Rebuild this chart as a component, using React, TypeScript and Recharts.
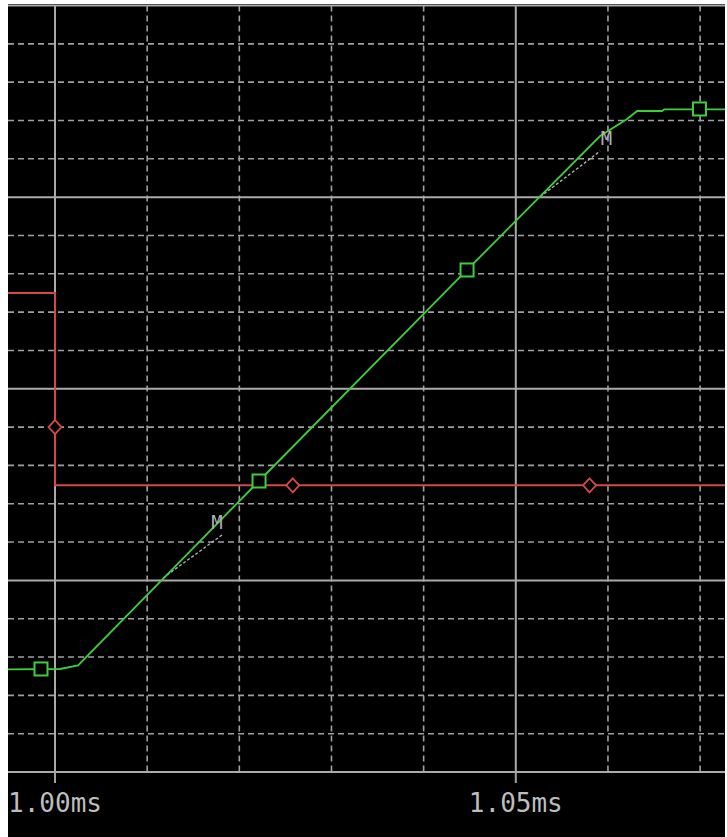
import {
  CartesianGrid,
  ComposedChart,
  Line,
  Scatter,
  XAxis,
  YAxis,
} from "recharts";

// time in ms, level in grid divisions (0 = bottom border, 20 = top border)
const T_START = 0.9949;
const T_END = 1.0727;

const greenTrace = [
  { t: 0.9949, v: 2.68 },
  { t: 1.00054, v: 2.688 },
  { t: 1.0025, v: 2.784 },
  { t: 1.02214, v: 7.593 },
  { t: 1.04471, v: 13.099 },
  { t: 1.05915, v: 16.595 },
  { t: 1.06208, v: 17.039 },
  { t: 1.06317, v: 17.247 },
  { t: 1.06588, v: 17.247 },
  { t: 1.0661, v: 17.292 },
  { t: 1.0727, v: 17.292 },
];

const redTrace = [
  { t: 0.9949, v: 12.5 },
  { t: 1.0, v: 12.5 },
  { t: 1.0, v: 7.48 },
  { t: 1.0727, v: 7.48 },
];

const greenMarkers = [
  { t: 0.99848, v: 2.688 },
  { t: 1.02214, v: 7.593 },
  { t: 1.04471, v: 13.099 },
  { t: 1.06993, v: 17.3 },
];

const redMarkers = [
  { t: 1.0, v: 9.0 },
  { t: 1.0258, v: 7.48 },
  { t: 1.058, v: 7.48 },
];

const grayTrace = [
  { t: 1.01172, v: 5.062 },
  { t: 1.01812, v: 6.184 },
  { t: 1.03, v: null },
  { t: 1.05264, v: 15.01 },
  { t: 1.05915, v: 16.2 },
];

const cursorLabels = [
  { t: 1.01758, v: 6.523, label: "M" },
  { t: 1.05985, v: 16.55, label: "M" },
];

const xTicks = [1.0, 1.05];
const xMinor = [1.01, 1.02, 1.03, 1.04, 1.06, 1.07];
const xMajor = [1.0, 1.05];
const yMinor = [1, 2, 3, 4, 6, 7, 8, 9, 11, 12, 13, 14, 16, 17, 18, 19];
const yMajor = [0, 5, 10, 15, 20];

const GREEN = "#3ccf3c";
const RED = "#d44848";
const GRID = "#a0a0a0";

const SquareMark = (props: any) => {
  const { cx, cy } = props;
  return (
    <rect
      x={cx - 6.5}
      y={cy - 6.5}
      width={13}
      height={13}
      fill="#000"
      stroke={GREEN}
      strokeWidth={2}
    />
  );
};

const DiamondMark = (props: any) => {
  const { cx, cy } = props;
  return (
    <path
      d={`M${cx},${cy - 7} L${cx + 6.5},${cy} L${cx},${cy + 7} L${cx - 6.5},${cy} Z`}
      fill="#000"
      stroke={RED}
      strokeWidth={1.8}
    />
  );
};

const LabelMark = (props: any) => {
  const { cx, cy, payload } = props;
  return (
    <text
      x={cx}
      y={cy + 7}
      textAnchor="middle"
      fontFamily="DejaVu Sans Mono"
      fontSize={19}
      fill="#b0b0b0"
    >
      {payload.label}
    </text>
  );
};

const TimeTick = (props: any) => {
  const { x, y, payload } = props;
  return (
    <text
      x={x}
      y={y + 27}
      textAnchor="middle"
      fontFamily="DejaVu Sans Mono"
      fontSize={26}
      fill="#bdbdbd"
    >
      {payload.value.toFixed(2)}ms
    </text>
  );
};

export default function App() {
  return (
    <div style={{ position: "absolute", left: 8, top: 4, background: "#000" }}>
      <ComposedChart
        width={717}
        height={833}
        margin={{ top: 1.5, right: 0, bottom: 0, left: 0 }}
      >
        <XAxis
          dataKey="t"
          type="number"
          domain={[T_START, T_END]}
          allowDataOverflow
          ticks={xTicks}
          tick={<TimeTick />}
          tickSize={11}
          tickMargin={2}
          tickLine={{ stroke: GRID, strokeWidth: 2 }}
          axisLine={false}
          height={65}
        />
        <YAxis
          dataKey="v"
          type="number"
          domain={[0, 20]}
          allowDataOverflow
          hide
          width={0}
        />
        <CartesianGrid
          horizontalValues={yMinor}
          verticalValues={xMinor}
          stroke={GRID}
          strokeWidth={1.6}
          strokeDasharray="6 4"
        />
        <CartesianGrid
          horizontalValues={yMajor}
          verticalValues={xMajor}
          stroke="#aaaaaa"
          strokeWidth={2}
        />
        <Line
          data={grayTrace}
          dataKey="v"
          stroke="#b4b4b4"
          strokeWidth={1.3}
          strokeDasharray="3 2"
          dot={false}
          connectNulls={false}
          isAnimationActive={false}
        />
        <Line
          data={redTrace}
          dataKey="v"
          stroke={RED}
          strokeWidth={2}
          dot={false}
          isAnimationActive={false}
        />
        <Line
          data={greenTrace}
          dataKey="v"
          stroke={GREEN}
          strokeWidth={1.8}
          dot={false}
          isAnimationActive={false}
        />
        <Scatter
          data={redMarkers}
          dataKey="v"
          shape={<DiamondMark />}
          isAnimationActive={false}
        />
        <Scatter
          data={greenMarkers}
          dataKey="v"
          shape={<SquareMark />}
          isAnimationActive={false}
        />
        <Scatter
          data={cursorLabels}
          dataKey="v"
          shape={<LabelMark />}
          isAnimationActive={false}
        />
      </ComposedChart>
    </div>
  );
}
